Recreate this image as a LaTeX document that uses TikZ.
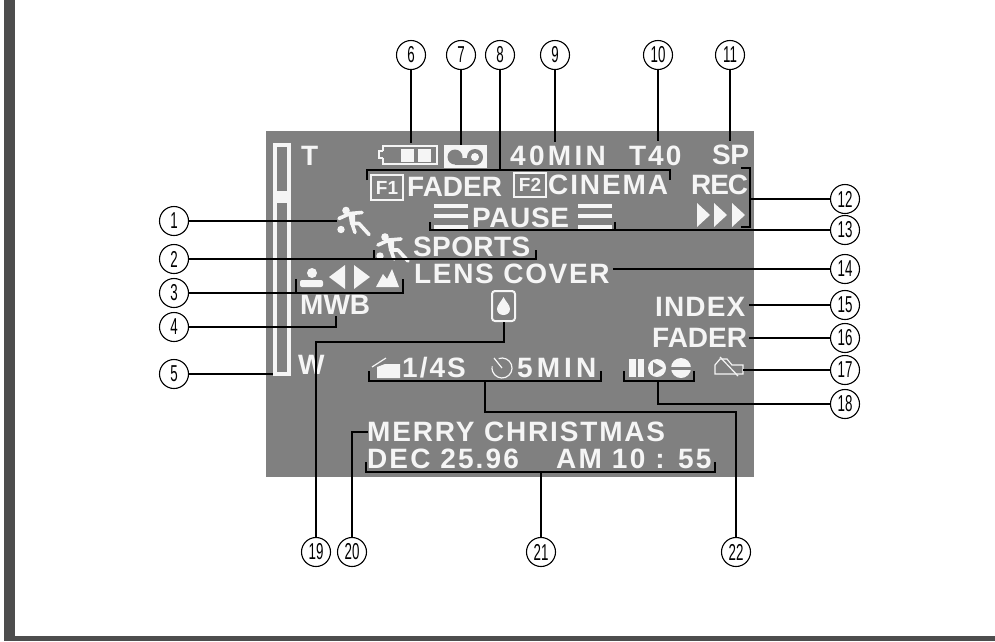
\documentclass[tikz,border=0pt]{standalone}
\usepackage{fontspec}
\setmainfont{Liberation Sans}
\newfontfamily\calloutfont[FakeStretch=0.58]{Liberation Sans}
\definecolor{cscreen}{HTML}{808080}
\definecolor{cframe}{HTML}{4D4D4D}
\definecolor{cglyph}{HTML}{F5F5F5}
\tikzset{
  callout/.style={draw=black, fill=white, circle, line width=1.1pt, minimum size=29pt, inner sep=0pt, font=\calloutfont\fontsize{23}{23}\selectfont},
  lead/.style={draw=black, line width=1.8pt},
  screenlabel/.style={anchor=base west, inner sep=0pt, text=cglyph, font=\bfseries\fontsize{28}{28}\selectfont\addfontfeature{LetterSpace=#1}},
  screenlabel/.default=0,
  boxlabel/.style={inner sep=0pt, text=cglyph, font=\bfseries\fontsize{19}{19}\selectfont},
  glyph/.style={fill=cglyph, draw=none},
  outline/.style={draw=cglyph, line width=2pt},
  runner/.pic={
    \fill[cglyph] (0,0) circle (3.8);
    \fill[cglyph] (-5,19) circle (3.7);
    \fill[cglyph] (3,3) -- (9,3) -- (9,14) -- (4,14) -- cycle;
    \draw[cglyph, line width=3.6pt, line cap=round, line join=round] (-7,8) -- (4,3) -- (16,2) (4,3) -- (6,13) -- (13,13) -- (23,24) (6,13) -- (9,22);
  },
}
\begin{document}
\begin{tikzpicture}[x=1pt, y=-1pt]
  \useasboundingbox (0,0) rectangle (995,641);
  \fill[cframe] (4,0) rectangle (15,641);
  \fill[cframe] (4,636) rectangle (995,641);
  \fill[cscreen] (266,131) rectangle (754,477);

  % zoom bar
  \draw[cglyph, line width=3.6pt] (275,145) rectangle (289,374);
  \fill[cglyph] (275,191) rectangle (289,203);

  % texts
  \node[screenlabel] (tele) at (301,165) {T};
  \node[screenlabel] (wide) at (298,374) {W};
  \node[screenlabel=11.8] (minutes) at (510,165) {40MIN};
  \node[screenlabel=7] (counter) at (629,165) {T40};
  \node[screenlabel=-2] (speed) at (712,164) {SP};
  \node[screenlabel] (faderone) at (407,196) {FADER};
  \node[screenlabel=6.8] (cinema) at (548,194) {CINEMA};
  \node[screenlabel=-4] (rec) at (691,194) {REC};
  \node[screenlabel=2.2] (pause) at (472,227) {PAUSE};
  \node[screenlabel=1.4] (sports) at (413,256) {SPORTS};
  \node[screenlabel=6] (lens) at (414,283) {LENS COVER};
  \node[screenlabel] (mwb) at (300,314) {MWB};
  \node[screenlabel=4] (index) at (655,316) {INDEX};
  \node[screenlabel] (fadertwo) at (652,347) {FADER};
  \node[screenlabel=7.2] (shutter) at (402,377) {1/4S};
  \node[screenlabel=14.5] (timer) at (517,377) {5MIN};
  \node[screenlabel=6.5] (title) at (367,441) {MERRY CHRISTMAS};
  \node[screenlabel=7.5] (date) at (367,468) {DEC 25.96};
  \node[screenlabel=8] (clock) at (556,468) {AM 10 : 55};

  % F1 and F2 boxes
  \draw[outline] (371,175) rectangle (403,200);
  \node[boxlabel] (fone) at (387,187.5) {F1};
  \draw[outline] (514,173) rectangle (546,197);
  \node[boxlabel] (ftwo) at (530,185) {F2};

  % battery and tape
  \draw[outline] (383,145.5) rectangle (437,164);
  \fill[cscreen] (382,151) rectangle (384,158);
  \draw[outline] (383,151) -- (379,151) -- (379,158) -- (383,158);
  \fill[glyph] (401,149) rectangle (414,162);
  \fill[glyph] (418,149) rectangle (431,162);
  \fill[glyph] (444,145) rectangle (487,168);
  \fill[cscreen] (455,157) circle (7.5);
  \fill[cscreen] (475,157) circle (8);
  \fill[cscreen] (455,158) rectangle (475,165);
  \fill[glyph] (475,157) circle (4);

  % pause bars and arrows
  \foreach \y in {203.5,214,225} {
    \fill[glyph] (434,\y) rectangle (468,\y+4);
    \fill[glyph] (578,\y) rectangle (612,\y+4);
  }
  \foreach \x in {697,714,732} \fill[glyph] (\x,203) -- (\x+13,215) -- (\x,227) -- cycle;

  \pic at (346,210.5) {runner};
  \pic at (385,237) {runner};

  % white balance row
  \fill[glyph] (312,273) circle (5);
  \fill[glyph, rounded corners=2pt] (300,287) -- (300,280) -- (323,280) -- (323,287) -- cycle;
  \fill[glyph] (345,265) -- (329,277) -- (345,289) -- cycle;
  \fill[glyph] (354,265) -- (370,277) -- (354,289) -- cycle;
  \fill[glyph] (376,287) -- (383,274) -- (387,279) -- (392,269) -- (399,287) -- cycle;

  % drop
  \draw[outline, rounded corners=3pt] (492,291) rectangle (515,321);
  \fill[glyph] (503.5,297) .. controls (501,302) and (497,305) .. (497,309) .. controls (497,317) and (510,317) .. (510,309) .. controls (510,305) and (506,302) .. (503.5,297) -- cycle;

  % bottom row icons
  \fill[glyph] (377,378) -- (377,367) -- (385,364) -- (400,364) -- (400,378) -- cycle;
  \draw[cglyph, line width=1.2pt] (372,367) -- (386,358);
  \draw[cglyph, line width=1.2pt] (498.6,358.6) arc (-110:190:10);
  \draw[cglyph, line width=1.2pt] (502,368) -- (494,358);
  \fill[glyph] (629,359) rectangle (636,377);
  \fill[glyph] (638,359) rectangle (644,377);
  \fill[glyph] (657,368) circle (9);
  \fill[glyph] (681,368) circle (10);
  \fill[cscreen] (653,362) -- (663,368) -- (653,374) -- cycle;
  \fill[cscreen] (671,367) rectangle (691,369.5);
  \draw[cglyph, line width=1.2pt] (715,374) -- (715,365) -- (720,359) -- (727,359) -- (732,365) -- (743,365) -- (743,374) -- cycle;
  \draw[cglyph, line width=1.2pt] (720,357) -- (738,376);

  % callouts
  \foreach \n/\x/\y in {1/174/221, 2/174/259, 3/174/293, 4/174/327, 5/174/374,
    6/411/55, 7/461/55, 8/500/55, 9/555/55, 10/658/55, 11/730/55,
    12/845/199, 13/845/230, 14/845/269, 15/845/305, 16/845/338, 17/845/370, 18/845/404,
    19/316/552, 20/352/552, 21/541/552, 22/736/552}
    \node[callout] (n\n) at (\x,\y) {\n};

  % free ends of the leaders
  \coordinate (e1) at (337,221);
  \coordinate (e2) at (536,250);
  \coordinate (f2) at (374,250);
  \coordinate (e3) at (403,279);
  \coordinate (f3) at (296,279);
  \coordinate (e4) at (336,316);
  \coordinate (e5) at (273,374);
  \coordinate (e6) at (411,143);
  \coordinate (e7) at (461,145);
  \coordinate (e8) at (500,170);
  \coordinate (g8) at (367,180);
  \coordinate (f8) at (670,180);
  \coordinate (e9) at (555,142);
  \coordinate (e10) at (658,141);
  \coordinate (e11) at (730,141);
  \coordinate (e12) at (750,199);
  \coordinate (g12) at (741,168);
  \coordinate (f12) at (741,227);
  \coordinate (e13) at (430,222);
  \coordinate (f13) at (615,222);
  \coordinate (e14) at (613,269);
  \coordinate (e15) at (749,305);
  \coordinate (e16) at (749,338);
  \coordinate (e17) at (743,370);
  \coordinate (e18) at (658,381);
  \coordinate (g18) at (624,371);
  \coordinate (f18) at (694,371);
  \coordinate (e19) at (504,322);
  \coordinate (e20) at (368,432);
  \coordinate (e21) at (541,472);
  \coordinate (g21) at (366,462);
  \coordinate (f21) at (715,462);
  \coordinate (e22) at (485,381);
  \coordinate (g22) at (369,371);
  \coordinate (f22) at (601,371);

  % leaders
  \foreach \n in {1,5,6,7,9,10,11,14,15,16,17} \draw[lead] (n\n) -- (e\n);
  \draw[lead] (n2) -| (e2);
  \draw[lead] (f2) -- (f2 |- n2);
  \draw[lead] (n3) -| (e3);
  \draw[lead] (f3) -- (f3 |- n3);
  \draw[lead] (n4) -| (e4);
  \draw[lead] (n8) -- (e8);
  \draw[lead] (g8) |- (e8) -| (f8);
  \draw[lead] (n12) -- (e12);
  \draw[lead] (g12) -| (e12) |- (f12);
  \draw[lead] (n13) -| (e13);
  \draw[lead] (f13) -- (f13 |- n13);
  \draw[lead] (n18) -| (e18);
  \draw[lead] (g18) |- (e18) -| (f18);
  \draw[lead] (n19) |- (e19 |- 0,342) -- (e19);
  \draw[lead] (n20) |- (e20);
  \draw[lead] (n21) -- (e21);
  \draw[lead] (g21) |- (e21) -| (f21);
  \draw[lead] (n22) |- (e22 |- 0,412) -- (e22);
  \draw[lead] (g22) |- (e22) -| (f22);
\end{tikzpicture}
\end{document}
